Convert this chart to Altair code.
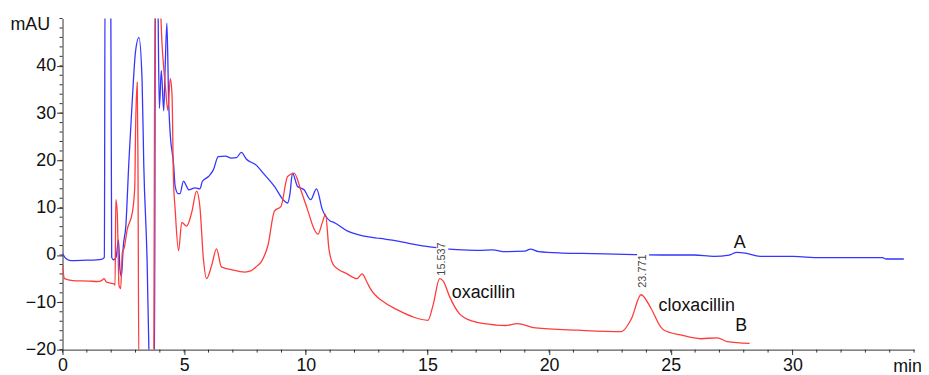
import altair as alt
import pandas as pd

# ---- data (time in min, signal in mAU) ----
blue_t = [0, 0.15, 0.35, 1.0, 1.6, 1.72, 1.75, 1.98, 2.02, 2.1, 2.2, 2.3, 2.36, 2.42, 2.5, 2.6,
          2.73, 2.87, 3.0, 3.14, 3.27, 3.34, 3.48, 3.55, 3.6, 3.78, 3.82, 3.9, 3.98, 4.06, 4.16,
          4.22, 4.29, 4.36, 4.45, 4.5, 4.56, 4.63, 4.75, 4.83, 4.97, 5.1, 5.18, 5.45, 5.65, 5.75,
          6.0, 6.2, 6.4, 6.7, 6.94, 7.15, 7.35, 7.55, 7.96, 8.3, 8.71, 9.12, 9.25, 9.35, 9.45,
          9.66, 9.93, 10.2, 10.44, 10.68, 11.0, 11.15, 11.7, 12.4, 13.05, 13.73, 14.41, 15.1,
          15.77, 16.45, 17.13, 17.67, 18.2, 19.0, 19.23, 19.57, 20.52, 21.88, 23.51, 24.6, 25.96,
          26.77, 27.4, 27.72, 28.06, 28.67, 30.03, 31.12, 33.7, 33.84, 34.58]
blue_v = [0.3, -0.8, -1.2, -1.1, -0.9, -0.5, 60, 60, -0.5, -1.0, -0.5, 3.2, -3, -4.5, 2, 6,
          20, 33, 43, 46, 37, 19, -2, -20, -25, -25, 60, 60, 31, 39, 30.5,
          40, 49, 33, 24, 22, 19.5, 14.5, 13, 13, 15.6, 14.5, 13.8, 14.2, 14, 15.6,
          16.6, 18, 20.8, 20.9, 20.5, 20.6, 21.7, 20.3, 19, 17, 14.5, 11.4, 11, 13, 17.3,
          14.5, 13.8, 11.7, 14, 9.6, 7.2, 6.9, 5.1, 4.0, 3.5, 3.0, 2.3, 1.7,
          1.3, 1.1, 1.0, 1.1, 0.7, 0.8, 1.26, 0.7, 0.42, 0.3, 0.1, 0.0, 0.0,
          -0.3, 0.0, 0.56, 0.4, -0.3, -0.3, -0.55, -0.55, -0.84, -0.84]

red_t = [0, 0.08, 0.42, 1.1, 1.44, 1.6, 1.71, 1.8, 1.92, 2.12, 2.16, 2.19, 2.25, 2.32, 2.39,
         2.46, 2.53, 2.66, 2.87, 2.97, 3.0, 3.07, 3.1, 3.14, 3.75, 3.78, 3.82, 3.95, 4.09, 4.23,
         4.33, 4.43, 4.5, 4.56, 4.63, 4.77, 4.9, 5.1, 5.31, 5.51, 5.65, 5.79, 5.92, 6.13, 6.33,
         6.53, 6.94, 7.49, 7.76, 8.0, 8.16, 8.3, 8.44, 8.71, 8.98, 9.25, 9.52, 9.79, 10.07,
         10.34, 10.5, 10.68, 10.81, 10.95, 11.15, 11.7, 12.1, 12.31, 12.51, 12.64, 13.19, 13.73,
         14.41, 15.02, 15.23, 15.5, 15.65, 15.91, 16.31, 16.86, 17.81, 18.2, 18.69, 19.44, 21.2,
         22.97, 23.38, 23.78, 24.19, 24.6, 24.73, 25.41, 26.23, 26.91, 27.32, 28.24]
red_v = [-2, -5, -5.4, -5.5, -5.6, -5.4, -5.0, -5.7, -5.9, -6.1, -6.4, 11.7, 9, -6.4, -7.1,
         0.6, 1.4, 5.4, 9, 14.5, 25.7, 36.5, 20, -25, -25, 29, 60, 60, 44.6, 35.5,
         30.6, 37.3, 34, 16, 9.6, 0.9, 6.9, 6.1, 9, 13.5, 10, -0.8, -5.0, -2.2, 1.3,
         -2.5, -3.1, -3.6, -3.3, -2.3, -1.5, -0.1, 1.95, 9.3, 10.3, 16.6, 17.3, 13.8, 9.6,
         5.5, 4.4, 6.9, 8.6, 1.3, -2.2, -4.0, -5.0, -4.0, -5.7, -7.0, -9.9, -11.5,
         -13.1, -13.8, -10.6, -5.0, -5.5, -8.8, -12.4, -14.0, -14.8, -14.9, -14.5, -15.4, -15.9,
         -16.2, -13.5, -8.4, -11.3, -15.3, -15.9, -16.9, -17.7, -17.5, -18.3, -18.7]

ann_text = ["oxacillin", "cloxacillin", "A", "B"]
ann_t = [16.0, 24.5, 27.83, 27.9]
ann_v = [-8.0, -10.7, 2.5, -15.1]
ann_align = ["left", "left", "center", "center"]

rt_text = ["15.537", "23.771"]
rt_t = [15.61, 23.86]
rt_v = [-0.84, -3.4]
rt_top = [2.6, 0.8]
rt_bot = [-4.2, -6.6]

x_major = list(range(0, 31, 5))
x_minor = list(range(0, 36))
y_major = list(range(-20, 41, 10))
y_minor = list(range(-20, 51, 2))

FONT = "Liberation Sans"
AX = "#333"
TXT = "#111"
W, H = 859, 334

blue = pd.DataFrame({"t": blue_t, "v": blue_v, "i": range(len(blue_t))})
red = pd.DataFrame({"t": red_t, "v": red_v, "i": range(len(red_t))})
ann = pd.DataFrame({"t": ann_t, "v": ann_v, "label": ann_text, "align": ann_align})
rts = pd.DataFrame({"t": rt_t, "v": rt_v, "label": rt_text, "top": rt_top, "bot": rt_bot})
xmin_df = pd.DataFrame({"t": x_minor})
ymin_df = pd.DataFrame({"v": y_minor})

xscale = alt.Scale(domain=[0, 35], nice=False, zero=False)
yscale = alt.Scale(domain=[-20, 50], nice=False, zero=False)

x_axis = alt.Axis(
    values=x_major, tickSize=5, grid=False, labelFlush=False, labelOverlap=False,
    labelFont=FONT, labelFontSize=18, labelColor=TXT, labelPadding=2,
    domainColor=AX, tickColor=AX,
    title="min", titleFont=FONT, titleFontSize=18, titleFontWeight="normal", titleColor=TXT,
    titleX=852, titleY=22, titleAlign="center", titleBaseline="alphabetic",
)
y_axis = alt.Axis(
    values=y_major, tickSize=6, grid=False, labelFlush=False, labelOverlap=False,
    labelFont=FONT, labelFontSize=18, labelColor=TXT, labelPadding=1,
    domainColor=AX, tickColor=AX,
    title="mAU", titleFont=FONT, titleFontSize=18, titleFontWeight="normal", titleColor=TXT,
    titleAngle=0, titleX=-13, titleY=6, titleAlign="right", titleBaseline="middle",
)


def X(field):
    return alt.X(field, type="quantitative", scale=xscale, axis=x_axis)


def Y(field):
    return alt.Y(field, type="quantitative", scale=yscale, axis=y_axis)


blue_line = alt.Chart(blue).mark_line(
    color="#3535ff", strokeWidth=1.3, clip=True, interpolate="monotone"
).encode(x=X("t"), y=Y("v"), order="i:Q")
red_line = alt.Chart(red).mark_line(
    color="#ff3c3c", strokeWidth=1.3, clip=True, interpolate="monotone"
).encode(x=X("t"), y=Y("v"), order="i:Q")
# minor ticks (every 1 min / every 2 mAU)
x_minor_ticks = alt.Chart(xmin_df).mark_rule(color=AX, strokeWidth=1).encode(
    x=X("t"), y=alt.value(H), y2=alt.value(H + 3),
)
y_minor_ticks = alt.Chart(ymin_df).mark_rule(color=AX, strokeWidth=1).encode(
    y=Y("v"), x=alt.value(-3), x2=alt.value(0),
)
gaps = alt.Chart(rts).mark_rule(color="white", strokeWidth=12).encode(
    x=X("t"), y=Y("top"), y2="bot:Q",
)
rt_labels = alt.Chart(rts).mark_text(
    angle=270, align="center", baseline="middle", font=FONT, fontSize=11, color="#444"
).encode(x=X("t"), y=Y("v"), text="label:N")
ann_left = alt.Chart(ann[ann["align"] == "left"]).mark_text(
    align="left", baseline="middle", font=FONT, fontSize=18, color=TXT
).encode(x=X("t"), y=Y("v"), text="label:N")
ann_center = alt.Chart(ann[ann["align"] == "center"]).mark_text(
    align="center", baseline="middle", font=FONT, fontSize=18, color=TXT
).encode(x=X("t"), y=Y("v"), text="label:N")

chart = alt.layer(blue_line, red_line, x_minor_ticks, y_minor_ticks, gaps, rt_labels,
                  ann_left, ann_center).properties(
    width=W, height=H,
    autosize=alt.AutoSizeParams(type="none"),
    padding={"left": 55, "top": 9, "right": 7, "bottom": 24},
    background="white",
).configure_view(stroke=None)

chart.save("out.html", embed_options={"renderer": "svg", "actions": False})
